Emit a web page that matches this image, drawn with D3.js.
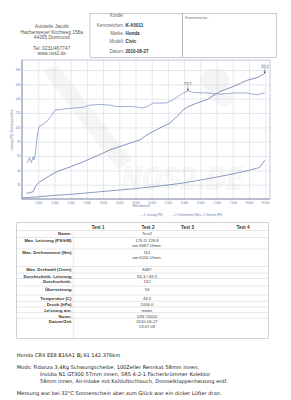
<!DOCTYPE html>
<html><head><meta charset="utf-8">
<script src="https://cdn.jsdelivr.net/npm/d3@7"></script>
<style>body{margin:0;background:#fff}svg{display:block}</style>
</head><body><svg id="c" width="291" height="400"></svg>
<script>
// ---------- data ----------
const addressLines = ["Autoteile Jacobi","Hachenweyer Kirchweg 158a","44265 Dortmund","","Tel: 0231/467747","www.nos2.de"];
const infoLabels = ["Kunde:","Kennzeichen:","Marke:","Modell:","Datum:"];
const infoValues = ["","K-A5011","Honda","Civic","2010-06-27"];
const commentLabel = "Kommentar:";

const xTicks = [1500,2000,2500,3000,3500,4000,4500,5000,5500,6000,6500,7000,7500,8000,8500];
const yTicks = [20,40,60,80,100,120,140,160,180];

const rpmPower = [1142,1250,1336,1400,1450,1552,1800,2068,2500,2889,3300,3713,4200,4639,4741,4947,5250,5564,5800,5975,6129,6400,6697,7107,7518,7931,8289,8487];
const power    = [8,9,10,16,20,24,31,38,45,52,60,68.5,76,82.5,86,92,99,106,116,124.5,129,134,138.5,150,157,165.5,170,175.2];

const rpmTorque = [1160,1230,1290,1345,1375,1410,1450,1490,1531,1650,1760,1900,2015,2376,2889,3095,3404,3713,3919,4431,4741,4900,5049,5450,5660,5975,6116,6290,6697,7107,7518,7931,8240,8487];
const torque    = [50,58,51,59,55,62,80,94,101,104,108,116,124,126,128,131,132,131,129,129,127,130,134,134,138.5,148,151,148.7,148,146.4,148,148,145.5,148];

const rpmLoss = [1000,1500,2000,2500,3000,3500,4000,4500,5000,5500,6000,6500,7000,7500,8000,8330,8487];
const loss    = [1.5,3,5,6.5,8.5,10.5,12.5,14.5,17,19.5,22.5,26.5,30.5,35,40,44,54];

const peakLabels = ["175.2","151.1"];
const legendLabels = ["1: Leistung (PS)","2: Drehmoment (Nm)","3: Verluste (PS)"];
const yTitle = "Leistung (PS) / Drehmoment (Nm)";
const xTitle = "Motordrehzahl";

const tableHeaders = ["","Test 1","Test 2","Test 3","Test 4"];
const rowLabels = [["Name:"],["Max. Leistung (PS/kW)"],["Max. Drehmoment (Nm)"],["Max. Drehzahl (1/min)"],["Durchschnitt- Leistung"],["Durchschnitt-"],["Übersetzung"],["Temperatur (C)"],["Druck (hPa)"],["Leistung am:"],["Norm:"],["Datum/Zeit"]];
const test2Values = [["Test2"],["175.2/ 128.8","am 8487    U/min."],["151","am 6116    U/min."],["8487"],["94.3 / 69.3"],["132"],["53"],["43.0"],["1006.0"],["motor"],["DIN 70020"],["2010-06-27","13:07:09"]];

const noteLines = [
  ["Honda CRX EE8  B16A1  Bj.91 142.376km", 0],
  ["Mods: Fidanza 3,4Kg Schwungscheibe, 100Zeller Rennkat 58mm innen,", 0],
  ["Invidia N1 GT300 57mm innen, SRS 4-2-1 Fächerkrümmer Kolektor", 1],
  ["58mm innen, Air-Intake mit Kaltluftschlauch, Drosselklappenheizung entf.", 1],
  ["Messung war bei 32°C Sonnenschein aber zum Glück war ein dicker Lüfter dran.", 0]
];

// ---------- drawing ----------
const svg = d3.select("#c");
svg.append("rect").attr("width",291).attr("height",400).attr("fill","#fff");
const sans = "Liberation Sans, Arial, sans-serif";
const verd = "DejaVu Sans, Verdana, sans-serif";

// header
const addrY = [26.7,32.7,37.7,0,48.3,53.3];
addressLines.forEach((t,i)=>{ if(!t) return;
  svg.append("text").attr("x",51.7).attr("y",addrY[i]+1.6).attr("text-anchor","middle")
    .attr("font-family",sans).attr("font-size",4.8).attr("fill","#555").text(t);
});
svg.append("rect").attr("x",90).attr("y",13.3).attr("width",92.7).attr("height",44).attr("fill","none").attr("stroke","#aaa").attr("stroke-width",0.6);
svg.append("rect").attr("x",182.7).attr("y",13.3).attr("width",94).attr("height",44).attr("fill","none").attr("stroke","#aaa").attr("stroke-width",0.6);
const infoY = [15.7,25,33.3,41.7,51];
infoLabels.forEach((t,i)=>{
  svg.append("text").attr("x",124).attr("y",infoY[i]+1.6).attr("text-anchor","end")
    .attr("font-family",sans).attr("font-size",4.5).attr("fill","#666").text(t);
  svg.append("text").attr("x",125.5).attr("y",infoY[i]+1.6)
    .attr("font-family",sans).attr("font-size",4.5).attr("font-weight","bold").attr("fill","#333").text(infoValues[i]);
});
svg.append("text").attr("x",185).attr("y",18.5).attr("font-family",sans).attr("font-size",4.3).attr("fill","#777").text(commentLabel);

// chart
const x = d3.scaleLinear().domain([1000,8650]).range([22,270]);
const y = d3.scaleLinear().domain([0,194]).range([199,60]);
const fmt = d3.formatLocale({decimal:",",thousands:".",grouping:[3],currency:["","€"]}).format(",d");

// watermark (faint)
const wm = svg.append("g").attr("opacity",0.35);
wm.append("path").attr("d","M42,70 L58,66 L132,160 L118,170 Z").attr("fill","#e4e4e4");
wm.append("ellipse").attr("cx",215).attr("cy",80).attr("rx",14).attr("ry",12).attr("fill","#e2e2e2");
wm.append("path").attr("d","M205,90 C215,110 235,112 232,95 Z").attr("fill","#e6e6e6");
wm.append("text").attr("x",122).attr("y",189).attr("font-family","DejaVu Sans, sans-serif")
  .attr("font-weight","bold").attr("font-style","italic").attr("font-size",30)
  .attr("textLength",121).attr("lengthAdjust","spacingAndGlyphs")
  .attr("fill","#f0f0f0").attr("stroke","#d6d6d6").attr("stroke-width",0.6).text("NOS2.DE");

// grid
svg.append("g").attr("transform","translate(0,199)")
  .call(d3.axisBottom(x).tickValues(xTicks).tickSize(-139).tickFormat(""))
  .call(g=>{g.select(".domain").remove(); g.selectAll("line").attr("stroke","#c9d0e0").attr("stroke-width",0.5);});
svg.append("g").attr("transform","translate(22,0)")
  .call(d3.axisLeft(y).tickValues(yTicks).tickSize(-248).tickFormat(""))
  .call(g=>{g.select(".domain").remove(); g.selectAll("line").attr("stroke","#c9d0e0").attr("stroke-width",0.5);});
svg.append("rect").attr("x",22).attr("y",60).attr("width",248).attr("height",139).attr("fill","none").attr("stroke","#9aa6c2").attr("stroke-width",0.6);
svg.append("line").attr("x1",22).attr("x2",22).attr("y1",60).attr("y2",199).attr("stroke","#6f7a99").attr("stroke-width",0.7);
svg.append("line").attr("x1",22).attr("x2",270).attr("y1",199).attr("y2",199).attr("stroke","#6f7a99").attr("stroke-width",0.7);

// tick labels
const xa = svg.append("g").attr("transform","translate(0,199)")
  .call(d3.axisBottom(x).tickValues(xTicks).tickSize(0).tickPadding(3.3).tickFormat(fmt));
xa.select(".domain").remove();
xa.selectAll("text").attr("font-family",sans).attr("font-size",2.9).attr("fill","#6677a8");
const ya = svg.append("g").attr("transform","translate(22,0)")
  .call(d3.axisLeft(y).tickValues(yTicks).tickSize(0).tickPadding(1.6).tickFormat(d3.format("d")));
ya.select(".domain").remove();
ya.selectAll("text").attr("font-family",sans).attr("font-size",2.9).attr("fill","#6677a8");
svg.append("text").attr("transform","translate(13.2,130) rotate(-90)").attr("text-anchor","middle")
  .attr("font-family",sans).attr("font-size",2.7).attr("fill","#6677a8").text(yTitle);
svg.append("text").attr("x",150).attr("y",206.8).attr("text-anchor","end")
  .attr("font-family",sans).attr("font-size",2.7).attr("fill","#6677a8").text(xTitle);

// curves
const line = d3.line().x(d=>x(d[0])).y(d=>y(d[1]));
const series = [
  {r:rpmPower, v:power, c:"#52649f"},
  {r:rpmTorque, v:torque, c:"#7689bf"},
  {r:rpmLoss, v:loss, c:"#5b6da6"}
];
series.forEach(s=>{
  svg.append("path").datum(s.r.map((r,i)=>[r,s.v[i]])).attr("d",line)
    .attr("fill","none").attr("stroke",s.c).attr("stroke-width",0.7).attr("stroke-linejoin","round");
});

// peak markers
const peaks = [[rpmPower[rpmPower.length-1], power[power.length-1]], [rpmTorque[26], torque[26]]];
peaks.forEach((p,i)=>{
  const px=x(p[0]), py=y(p[1]);
  svg.append("line").attr("x1",px).attr("x2",px).attr("y1",py-5).attr("y2",py).attr("stroke","#444").attr("stroke-width",0.4);
  svg.append("path").attr("d",`M${px-1},${py-2} L${px+1},${py-2} L${px},${py} Z`).attr("fill","#444");
  svg.append("rect").attr("x",px-3.6).attr("y",py-8.6).attr("width",7.2).attr("height",3.6).attr("fill","#fff").attr("stroke","#bbb").attr("stroke-width",0.3);
  svg.append("text").attr("x",px).attr("y",py-5.8).attr("text-anchor","middle")
    .attr("font-family",sans).attr("font-size",2.8).attr("fill","#333").text(peakLabels[i]);
});

// legend
const legX = [140,171.7,200];
legendLabels.forEach((t,i)=>{
  svg.append("text").attr("x",legX[i]).attr("y",216)
    .attr("font-family",sans).attr("font-size",2.7).attr("fill","#6677a8").text("— " + t);
});

// table
const tb = [222.7,230.5,237.5,249,266.5,273,278.5,286,295,301.3,307,312.7,318.3,338.3];
const tL = 16.7, tR = 268.3, sep = 73.3;
const tg = svg.append("g");
tg.append("rect").attr("x",tL).attr("y",tb[0]).attr("width",tR-tL).attr("height",tb[tb.length-1]-tb[0])
  .attr("fill","none").attr("stroke","#b5b5b5").attr("stroke-width",0.6);
tb.slice(1,-1).forEach(v=>tg.append("line").attr("x1",tL).attr("x2",tR).attr("y1",v).attr("y2",v).attr("stroke","#cfcfcf").attr("stroke-width",0.5));
tg.append("line").attr("x1",sep).attr("x2",sep).attr("y1",tb[1]).attr("y2",tb[tb.length-1]).attr("stroke","#cfcfcf").attr("stroke-width",0.5);
const hdrX = [0,98,148,187.5,243];
tableHeaders.forEach((t,i)=>{ if(!t) return;
  tg.append("text").attr("x",hdrX[i]).attr("y",tb[0]+6).attr("text-anchor","middle")
    .attr("font-family",sans).attr("font-size",4.6).attr("font-weight","bold").attr("fill","#333").text(t);
});
rowLabels.forEach((lab,i)=>{
  const top = tb[i+1];
  lab.forEach((t,j)=>tg.append("text").attr("x",71.5).attr("y",top+4.9+j*5).attr("text-anchor","end")
    .attr("font-family",sans).attr("font-size",4.4).attr("font-weight","bold").attr("fill","#333").text(t));
  test2Values[i].forEach((t,j)=>tg.append("text").attr("x",147).attr("y",top+4.9+j*5).attr("text-anchor","middle")
    .attr("font-family",sans).attr("font-size",4.2).attr("fill","#444").text(t));
});

// notes
const noteY = [355,366.7,374,380.7,393.3];
noteLines.forEach((n,i)=>{
  svg.append("text").attr("x",n[1]?40:16.7).attr("y",noteY[i]+1.9)
    .attr("font-family",verd).attr("font-size",5.1).attr("fill","#222").text(n[0]);
});
</script></body></html>
